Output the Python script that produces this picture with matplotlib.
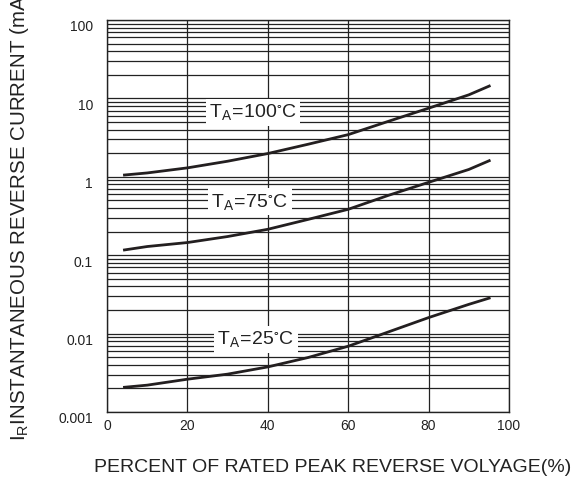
import matplotlib
matplotlib.use("Agg")
import matplotlib.pyplot as plt
import matplotlib.transforms as mtransforms

plt.rcParams['font.family'] = ['Liberation Sans', 'DejaVu Sans']
plt.rcParams['mathtext.fontset'] = 'custom'
plt.rcParams['mathtext.rm'] = 'Liberation Sans'

# Data
x_pct = [4, 10, 20, 30, 40, 50, 60, 70, 80, 90, 95.4]
i_100 = [1.05, 1.12, 1.30, 1.58, 1.98, 2.6, 3.45, 5.1, 7.5, 11.1, 14.6]
i_75 = [0.116, 0.129, 0.145, 0.173, 0.214, 0.286, 0.385, 0.58, 0.85, 1.24, 1.63]
i_25 = [0.00206, 0.0022, 0.00262, 0.00304, 0.00376, 0.00495, 0.0069, 0.0105, 0.016, 0.0236, 0.0287]

x_ticks = [0, 20, 40, 60, 80, 100]
y_ticks = [0.001, 0.01, 0.1, 1, 10, 100]
y_tick_labels = ['0.001', '0.01', '0.1', '1', '10', '100']

labels = [r'$\mathregular{T_A\!=\!100^{\circ}C}$',
          r'$\mathregular{T_A\!=\!75^{\circ}C}$',
          r'$\mathregular{T_A\!=\!25^{\circ}C}$']
label_pos = [(36.3, 6.7), (35.5, 0.48), (37, 0.0085)]

W, H = 582, 483
fig = plt.figure(figsize=(W / 100, H / 100), dpi=100)
ax = fig.add_axes([107 / W, 1 - 412 / H, (509 - 107) / W, (412 - 20) / H])

lc = '#231f20'
for ys in (i_100, i_75, i_25):
    ax.plot(x_pct, ys, color=lc, lw=2.0, solid_capstyle='butt', zorder=3)

ax.set_yscale('log')
ax.set_xlim(0, 100)
ax.set_ylim(0.001, 100)
ax.set_xticks(x_ticks)
ax.set_xticklabels([str(v) for v in x_ticks])
ax.set_yticks(y_ticks)
ax.set_yticklabels(y_tick_labels)
ax.tick_params(axis='both', which='both', length=0, labelsize=10, colors='#222222')
ax.tick_params(axis='y', pad=10)
ax.tick_params(axis='x', pad=5)
ax.grid(True, which='major', color='#222222', lw=0.9)
ax.grid(True, which='minor', axis='y', color='#222222', lw=0.9)
for s in ax.spines.values():
    s.set_color('#222222')
    s.set_linewidth(1.0)

off = mtransforms.ScaledTranslation(0, -6 / 100, fig.dpi_scale_trans)
for lab in ax.get_yticklabels():
    lab.set_transform(lab.get_transform() + off)

for txt, (xx, yy) in zip(labels, label_pos):
    ax.text(xx, yy, txt, fontsize=14, ha='center', va='center', color='#222222',
            bbox=dict(facecolor='white', edgecolor='none', pad=2.5), zorder=4)

fig.text(333 / W, 1 - 467 / H, 'PERCENT OF RATED PEAK REVERSE VOLYAGE(%)',
         ha='center', va='center', fontsize=14, color='#222222')
fig.text(20 / W, 1 - 441 / H, r'$\mathregular{I_R}$INSTANTANEOUS REVERSE CURRENT (mA)',
         rotation=90, ha='center', va='bottom', fontsize=14.8, color='#222222')

fig.savefig('out.png', dpi=100)
